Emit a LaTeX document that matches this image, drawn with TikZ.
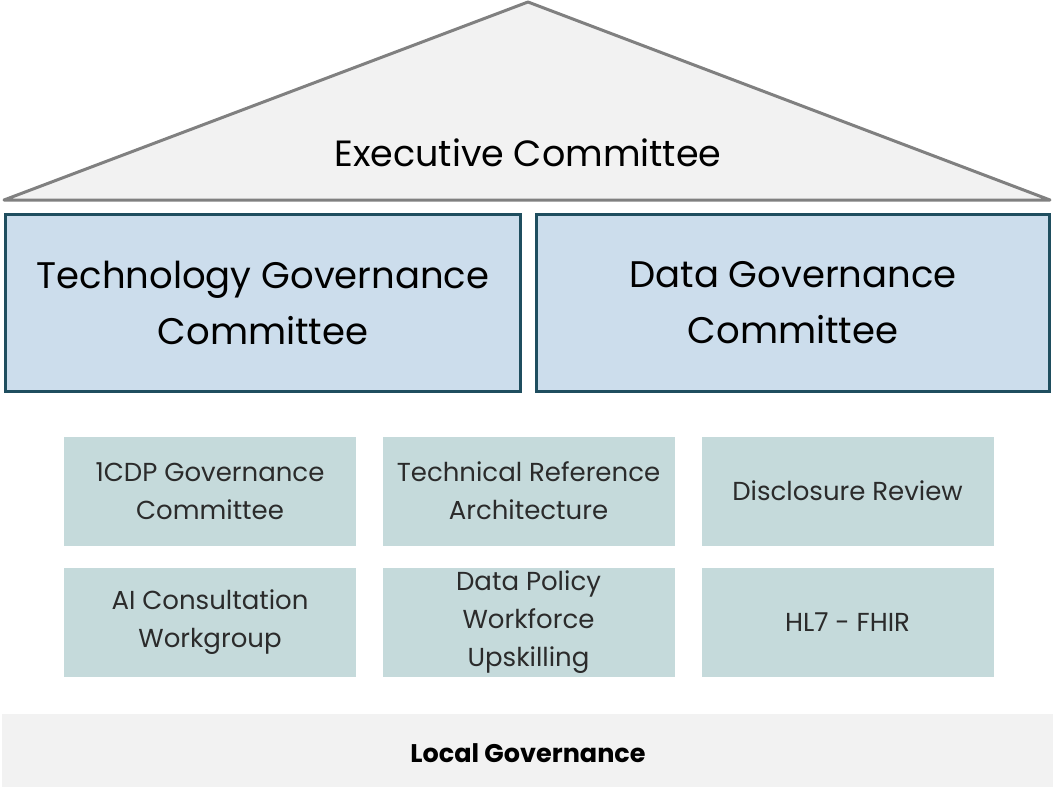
\documentclass[tikz,border=0pt]{standalone}
\usepackage{fontspec}
\setmainfont{Poppins}
\definecolor{roofgray}{HTML}{F2F2F2}
\definecolor{roofline}{HTML}{808080}
\definecolor{bigfill}{HTML}{CCDDEC}
\definecolor{bigline}{HTML}{1F4E5F}
\definecolor{smallfill}{HTML}{C5DADB}
\definecolor{smalltext}{HTML}{2B2B2B}
\begin{document}
\begin{tikzpicture}[x=1pt,y=-1pt,
  bigbox/.style={draw=bigline,line width=3pt,fill=bigfill,minimum height=177pt,inner sep=0pt,align=center,font=\fontsize{37}{56}\selectfont},
  smallbox/.style={fill=smallfill,minimum width=292pt,minimum height=109pt,inner sep=0pt,align=center,text=smalltext,font=\fontsize{26}{38}\selectfont}]
\useasboundingbox (0,0) rectangle (1053,787);
% roof
\draw[roofline,line width=3pt,fill=roofgray,line join=round] (4,200) -- (528,2) -- (1050,200) -- cycle;
\node[font=\fontsize{36.5}{40}\selectfont] (exec) at (528,153) {Executive Committee};
% big boxes
\node[bigbox,minimum width=515pt] (tech) at (263,303) {Technology Governance\\Committee};
\node[bigbox,minimum width=513pt] (data) at (793,303) {Data Governance\\Committee};
% small boxes
\node[smallbox] (cdp) at (210,491) {1CDP Governance\\Committee};
\node[smallbox] (tra) at (528.5,491) {Technical Reference\\Architecture};
\node[smallbox] (disc) at (847.5,491) {Disclosure Review};
\node[smallbox] (ai) at (210,622) {AI Consultation\\Workgroup};
\node[smallbox] (dp) at (528.5,622) {Data Policy\\Workforce\\Upskilling};
\node[smallbox] (hl7) at (847.5,622) {HL7 - FHIR};
% base
\fill[roofgray] (2,714) rectangle (1053,787);
\node[font=\fontsize{25.5}{30}\selectfont\bfseries] (local) at (528,753) {Local Governance};
\end{tikzpicture}
\end{document}
